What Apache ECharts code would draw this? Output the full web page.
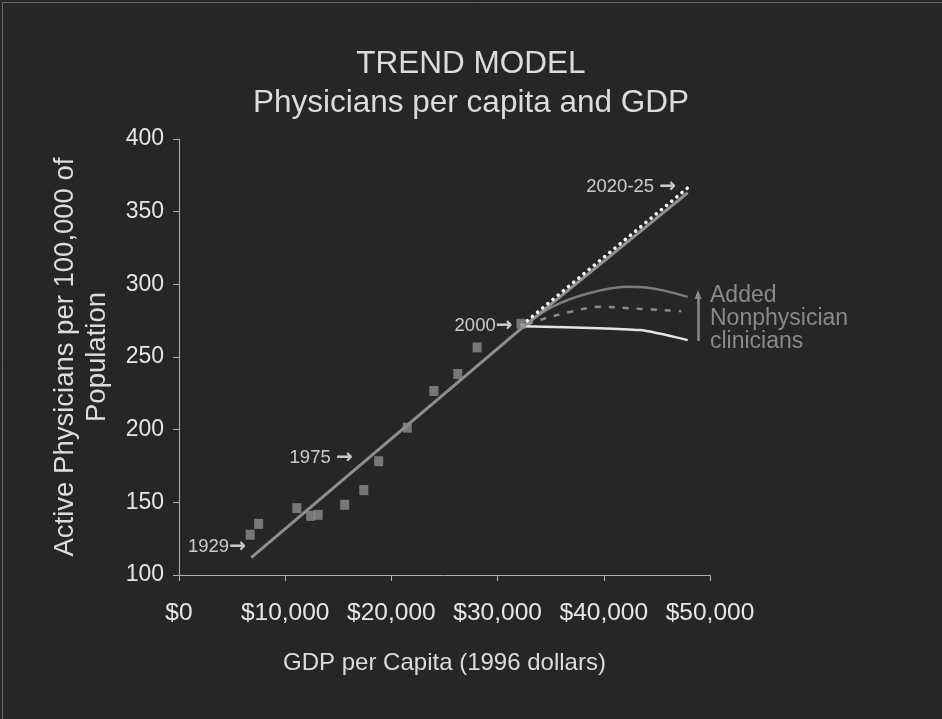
<!DOCTYPE html>
<html>
<head>
<meta charset="utf-8">
<title>Trend model: physicians per capita and GDP</title>
<script src="https://cdn.jsdelivr.net/npm/echarts@6/dist/echarts.min.js"></script>
<style>
  html, body { margin: 0; padding: 0; background: #262626; }
  #chart { width: 942px; height: 719px; }
</style>
</head>
<body>
<div id="chart"></div>
<script>
// Observed years: GDP per capita (1996 dollars) and active physicians per 100,000
const gdpObserved = [6700, 7500, 11100, 12400, 13100, 15600, 17400, 18800, 21500, 24000, 26250, 28070, 32200];
const physObserved = [127.7, 135.2, 146, 140.7, 141.4, 148.3, 158.4, 178.3, 201.4, 226.6, 238.3, 256.6, 272.9];

// Fitted trend line
const trendGdp = [6800, 32300, 47900];
const trendPhys = [112, 270, 363];

// Projected demand to 2020-25 (dotted)
const demandGdp = [32300, 48000];
const demandPhys = [272, 367];

// Supply projections: with added nonphysician clinicians (upper), middle, physicians only (lower)
const upperGdp = [32800, 35000, 38400, 42200, 44000, 47900];
const upperPhys = [273, 284, 293.5, 298.3, 297.8, 291.4];
const middleGdp = [32800, 33400, 36800, 39700, 42800, 47300];
const middlePhys = [272, 274.2, 281, 284.5, 283.4, 281.5];
const lowerGdp = [32300, 43400, 47900];
const lowerPhys = [271.2, 268.5, 261.6];

// Year call-outs, anchored at the right end of each label
const noteYear = ['1929', '1975 ', '2000', '2020-25 '];
const noteGdp = [6300, 16350, 31400, 46800];
const notePhys = [119.2, 180.4, 271.7, 367.2];

// Arrow showing the contribution of added nonphysician clinicians
const arrowGdp = 48870;
const arrowFrom = 261;
const arrowTo = 293;

const yTicks = [100, 150, 200, 250, 300, 350, 400];

const zip = (xs, ys) => xs.map((x, i) => [x, ys[i]]);
const money = v => '$' + String(v).replace(/\B(?=(\d{3})+(?!\d))/g, ',');

const baseFont = '"Liberation Sans", Arial, sans-serif';

const chart = echarts.init(document.getElementById('chart'), null, { renderer: 'canvas' });

chart.setOption({
  backgroundColor: '#262626',
  animation: false,
  title: {
    text: 'TREND MODEL\nPhysicians per capita and GDP',
    left: 'center',
    top: 40,
    textStyle: {
      color: '#dcdcdc',
      fontFamily: baseFont,
      fontSize: 31.5,
      fontWeight: 'normal',
      lineHeight: 39
    }
  },
  grid: { left: 179, right: 232, top: 139, bottom: 144, containLabel: false },
  xAxis: {
    type: 'value',
    min: 0,
    max: 50000,
    interval: 10000,
    name: 'GDP per Capita (1996 dollars)',
    nameLocation: 'middle',
    nameGap: 76,
    nameTextStyle: { color: '#dcdcdc', fontFamily: baseFont, fontSize: 24 },
    axisLine: { lineStyle: { color: '#b0b0b0', width: 1 } },
    axisTick: { show: true, inside: false, length: 6, lineStyle: { color: '#b0b0b0' } },
    axisLabel: {
      color: '#e6e6e6',
      fontFamily: baseFont,
      fontSize: 24.5,
      margin: 26,
      formatter: v => money(v)
    },
    splitLine: { show: false }
  },
  yAxis: {
    type: 'value',
    min: yTicks[0],
    max: yTicks[yTicks.length - 1],
    interval: 50,
    name: 'Active Physicians per 100,000 of\nPopulation',
    nameLocation: 'middle',
    nameRotate: 90,
    nameGap: 66,
    nameTextStyle: { color: '#dcdcdc', fontFamily: baseFont, fontSize: 27.5, lineHeight: 32 },
    axisLine: { show: true, lineStyle: { color: '#b0b0b0', width: 1 } },
    axisTick: { show: true, inside: false, length: 6, lineStyle: { color: '#b0b0b0' } },
    axisLabel: { color: '#e6e6e6', fontFamily: baseFont, fontSize: 23, margin: 15 },
    splitLine: { show: false }
  },
  series: [
    {
      name: 'Trend',
      type: 'line',
      data: zip(trendGdp, trendPhys),
      showSymbol: false,
      lineStyle: { color: '#8e8e8e', width: 3 },
      z: 3
    },
    {
      name: 'Demand 2020-25',
      type: 'line',
      data: zip(demandGdp, demandPhys),
      showSymbol: false,
      lineStyle: { color: '#f2f2f2', width: 3.6, type: [0.1, 6.6], cap: 'round' },
      z: 4
    },
    {
      name: 'With nonphysician clinicians',
      type: 'line',
      data: zip(upperGdp, upperPhys),
      showSymbol: false,
      smooth: 0.35,
      lineStyle: { color: '#7c7c7c', width: 2.5 },
      z: 2
    },
    {
      name: 'Intermediate',
      type: 'line',
      data: zip(middleGdp, middlePhys),
      showSymbol: false,
      smooth: 0.35,
      lineStyle: { color: '#8a8a8a', width: 2.5, type: [6, 8] },
      z: 2
    },
    {
      name: 'Physicians only',
      type: 'line',
      data: zip(lowerGdp, lowerPhys),
      showSymbol: false,
      smooth: 0.2,
      lineStyle: { color: '#e4e4e4', width: 2.5 },
      z: 2
    },
    {
      name: 'Observed',
      type: 'scatter',
      data: zip(gdpObserved, physObserved),
      symbol: 'rect',
      symbolSize: [9, 10],
      itemStyle: { color: '#8c8c8c' },
      z: 5
    },
    {
      name: 'Year notes',
      type: 'scatter',
      data: noteGdp.map((x, i) => ({
        value: [x, notePhys[i]],
        label: { formatter: '{t|' + noteYear[i] + '}{a|\u2192}' }
      })),
      symbolSize: 0,
      silent: true,
      label: {
        show: true,
        position: 'left',
        distance: 0,
        rich: {
          t: { color: '#f4f4f4', fontFamily: baseFont, fontSize: 18.5 },
          a: { color: '#f4f4f4', fontFamily: '"DejaVu Sans", sans-serif', fontWeight: 'bold', fontSize: 20 }
        }
      },
      z: 6
    },
    {
      name: 'Clinician arrow',
      type: 'line',
      data: [],
      markLine: {
        silent: true,
        animation: false,
        symbol: ['none', 'triangle'],
        symbolSize: [7, 9],
        label: { show: false },
        lineStyle: { color: '#8a8a8a', width: 2.5, type: 'solid' },
        data: [[{ coord: [arrowGdp, arrowFrom] }, { coord: [arrowGdp, arrowTo] }]]
      }
    }
  ],
  graphic: [
    {
      type: 'text',
      left: 710,
      top: 284,
      silent: true,
      style: {
        text: 'Added\nNonphysician\nclinicians',
        fill: '#8a8a8a',
        font: '23px ' + baseFont,
        lineHeight: 23
      }
    },
    {
      type: 'rect',
      left: 0,
      top: 0,
      silent: true,
      shape: { x: 0, y: 0, width: 941, height: 718 },
      style: { fill: 'none', stroke: '#6a6a6a', lineWidth: 1 }
    }
  ]
});
</script>
</body>
</html>
